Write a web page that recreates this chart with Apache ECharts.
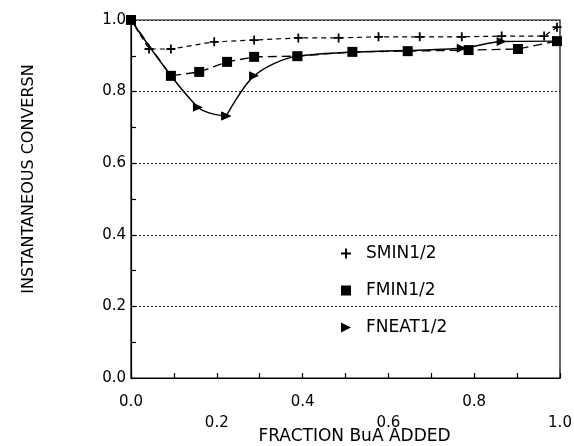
<!DOCTYPE html>
<html>
<head>
<meta charset="utf-8">
<script src="https://cdn.jsdelivr.net/npm/echarts@6/dist/echarts.min.js"></script>
<style>html,body{margin:0;padding:0;background:#fff;}#c{width:574px;height:446px;}</style>
</head>
<body>
<div id="c"></div>
<script>
// Data
const seriesNames = ['SMIN1/2', 'FMIN1/2', 'FNEAT1/2'];
const sminX = [0.0, 0.042, 0.093, 0.194, 0.287, 0.390, 0.484, 0.577, 0.673, 0.771, 0.864, 0.963, 0.993];
const sminY = [1.0, 0.919, 0.919, 0.939, 0.944, 0.950, 0.950, 0.953, 0.953, 0.953, 0.955, 0.955, 0.980];
const fminX = [0.0, 0.093, 0.159, 0.224, 0.287, 0.388, 0.516, 0.645, 0.787, 0.902, 0.993];
const fminY = [1.0, 0.844, 0.855, 0.883, 0.897, 0.899, 0.911, 0.913, 0.916, 0.919, 0.941];
const fneatX = [0.0, 0.156, 0.222, 0.287, 0.388, 0.771, 0.864, 0.993];
const fneatY = [1.0, 0.756, 0.732, 0.844, 0.899, 0.921, 0.940, 0.941];
const yTicks = [0.0, 0.2, 0.4, 0.6, 0.8, 1.0];
const xTicks = [0.0, 0.2, 0.4, 0.6, 0.8, 1.0];

const pairs = (xs, ys) => xs.map((x, i) => [x, ys[i]]);
const plusPath = 'path://M4,0H6V4H10V6H6V10H4V6H0V4H4Z';
const triPath = 'path://M0,0L10,5L0,10Z';
const font = 'DejaVu Sans';
// the FNEAT curve has a sharp corner at its minimum: draw it as two smoothed pieces
const fneatAll = pairs(fneatX, fneatY);
const fneatMinIdx = fneatY.indexOf(Math.min(...fneatY));
const fneatPart1 = fneatAll.slice(0, fneatMinIdx + 1);
const fneatPart2 = fneatAll.slice(fneatMinIdx);

const fneatStyle = {
  type: 'line', name: seriesNames[2], symbol: triPath, symbolSize: [10, 9],
  itemStyle: {color: '#000'}, lineStyle: {color: '#000', width: 1.4, type: 'solid'}, z: 2
};

const chart = echarts.init(document.getElementById('c'), null, {renderer: 'canvas'});
chart.setOption({
  animation: false,
  backgroundColor: '#fff',
  grid: {left: 131, right: 14, top: 20, bottom: 68, show: true, borderColor: '#000', borderWidth: 1.2,
         backgroundColor: 'transparent', containLabel: false, outerBoundsMode: 'none'},
  legend: {
    orient: 'vertical', left: 336, top: 240,
    itemWidth: 10, itemHeight: 10, itemGap: 20,
    textStyle: {fontFamily: font, fontSize: 17, color: '#000', lineHeight: 17, padding: [0, 0, 0, 10]},
    data: [
      {name: seriesNames[0], icon: plusPath},
      {name: seriesNames[1], icon: 'rect'},
      {name: seriesNames[2], icon: triPath}
    ]
  },
  xAxis: {
    type: 'value', min: 0, max: 1, interval: 0.2,
    name: 'FRACTION BuA ADDED', nameLocation: 'middle', nameGap: 50, nameMoveOverlap: false,
    nameTextStyle: {fontFamily: font, fontSize: 17, color: '#000', padding: [0, 0, 0, 18]},
    axisLine: {lineStyle: {color: '#000', width: 1.2}},
    axisTick: {inside: true, length: 5, lineStyle: {color: '#000', width: 1.2}},
    minorTick: {show: true, splitNumber: 2, length: 5, lineStyle: {color: '#000', width: 1.2}},
    splitLine: {show: false},
    axisLabel: {
      margin: 14, fontFamily: font, fontSize: 15, color: '#000', lineHeight: 21,
      formatter: v => {
        const s = v.toFixed(1);
        return (Math.round(v * 10) % 4 === 2) ? '\n' + s : s;
      }
    }
  },
  yAxis: {
    type: 'value', min: 0, max: 1, interval: 0.2,
    name: 'INSTANTANEOUS CONVERSN', nameLocation: 'middle', nameGap: 94, nameMoveOverlap: false,
    nameTextStyle: {fontFamily: font, fontSize: 16, color: '#000', padding: [0, 0, 0, 40]},
    axisLine: {lineStyle: {color: '#000', width: 1.2}},
    axisTick: {inside: true, length: 5, lineStyle: {color: '#000', width: 1.2}},
    minorTick: {show: true, splitNumber: 2, length: 5, lineStyle: {color: '#000', width: 1.2}},
    splitLine: {show: true, lineStyle: {color: '#222', type: [2, 2], width: 1}},
    axisLabel: {margin: 5, fontFamily: font, fontSize: 15, color: '#000', formatter: v => v.toFixed(1)}
  },
  series: [
    Object.assign({}, fneatStyle, {data: fneatPart1, smooth: 0.35}),
    Object.assign({}, fneatStyle, {data: fneatPart2, smooth: 0.3}),
    {
      name: seriesNames[0], type: 'line', data: pairs(sminX, sminY),
      symbol: plusPath, symbolSize: 9,
      itemStyle: {color: '#000'}, lineStyle: {color: '#000', width: 1.2, type: [5, 4]}, z: 3
    },
    {
      name: seriesNames[1], type: 'line', data: pairs(fminX, fminY),
      symbol: 'rect', symbolSize: 10,
      itemStyle: {color: '#000'}, lineStyle: {color: '#000', width: 1.3, type: [9, 5]}, z: 4
    }
  ]
});
</script>
</body>
</html>
